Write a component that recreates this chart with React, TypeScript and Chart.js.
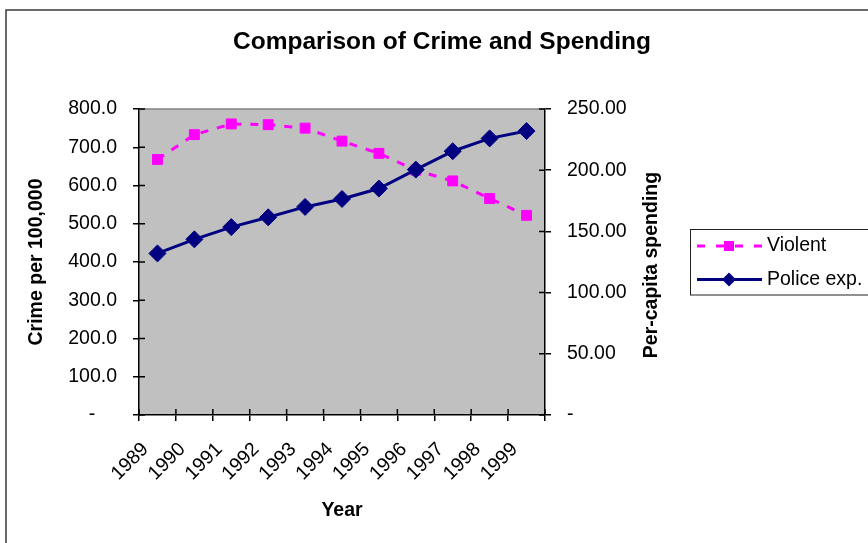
import React, { useEffect, useRef } from "react";
import { Chart, registerables } from "chart.js";

Chart.register(...registerables);

// ---- data ----
const years = ["1989", "1990", "1991", "1992", "1993", "1994", "1995", "1996", "1997", "1998", "1999"];
const violent = [668, 733, 761, 759, 750, 716, 684, 640, 612, 566, 522];
const policeExp = [132, 143.5, 153.5, 161.5, 170, 176.5, 185, 200.5, 215.5, 226, 232];
const seriesNames = ["Violent", "Police exp."];
const titleText = "Comparison of Crime and Spending";
const leftAxisTitle = "Crime per 100,000";
const rightAxisTitle = "Per-capita spending";
const xAxisTitle = "Year";

const FONT = "'Liberation Sans', Arial, Helvetica, sans-serif";
const PINK = "#FF00FF";
const NAVY = "#000080";
const PLOT_BG = "#C0C0C0";

const W = 868;
const H = 543;
const PLOT_LEFT = 139;
const PLOT_RIGHT = 545;
const PLOT_BOTTOM = 415;
const PAD_LEFT = 16;

const excelPlugin = {
  id: "excelLook",
  beforeDraw(chart: any) {
    const { ctx, chartArea: a } = chart;
    ctx.save();
    ctx.fillStyle = "#ffffff";
    ctx.fillRect(0, 0, chart.width, chart.height);
    ctx.strokeStyle = "#3a3a3a";
    ctx.lineWidth = 1.5;
    ctx.strokeRect(6, 10, chart.width + 40, chart.height + 40);
    ctx.fillStyle = PLOT_BG;
    ctx.fillRect(a.left, a.top, a.right - a.left, a.bottom - a.top);
    ctx.restore();
  },
  beforeDatasetsDraw(chart: any) {
    const { ctx, chartArea: a, scales } = chart;
    ctx.save();
    // top border of plot area
    ctx.strokeStyle = "#808080";
    ctx.lineWidth = 1.5;
    ctx.beginPath();
    ctx.moveTo(a.left, a.top);
    ctx.lineTo(a.right, a.top);
    ctx.stroke();
    // inner halves of cross tick marks
    ctx.strokeStyle = "#000000";
    ctx.lineWidth = 1.5;
    ctx.beginPath();
    scales.y.ticks.forEach((t: any) => {
      const py = scales.y.getPixelForValue(t.value);
      ctx.moveTo(a.left, py);
      ctx.lineTo(a.left + 6, py);
    });
    scales.y2.ticks.forEach((t: any) => {
      const py = scales.y2.getPixelForValue(t.value);
      ctx.moveTo(a.right, py);
      ctx.lineTo(a.right - 6, py);
    });
    for (let i = 0; i <= years.length; i++) {
      const px = scales.x.getPixelForValue(i - 0.5);
      ctx.moveTo(px, a.bottom);
      ctx.lineTo(px, a.bottom - 6);
    }
    ctx.stroke();
    ctx.restore();
  },
  afterDraw(chart: any) {
    const { ctx } = chart;
    ctx.save();
    // right axis title (reads bottom to top)
    ctx.fillStyle = "#000";
    ctx.font = `bold 19.5px ${FONT}`;
    ctx.textAlign = "center";
    ctx.textBaseline = "middle";
    ctx.translate(652, 265);
    ctx.rotate(-Math.PI / 2);
    ctx.fillText(rightAxisTitle, 0, 0);
    ctx.restore();

    // legend
    ctx.save();
    ctx.strokeStyle = "#222";
    ctx.lineWidth = 1;
    ctx.strokeRect(690.5, 229.5, 200, 65.5);
    // Violent
    const y1 = 246;
    ctx.strokeStyle = PINK;
    ctx.lineWidth = 3;
    ctx.setLineDash([8, 11]);
    ctx.beginPath();
    ctx.moveTo(697, y1);
    ctx.lineTo(762, y1);
    ctx.stroke();
    ctx.setLineDash([]);
    ctx.fillStyle = PINK;
    ctx.fillRect(724, y1 - 5, 10, 10);
    // Police
    const y2 = 279.5;
    ctx.strokeStyle = NAVY;
    ctx.lineWidth = 3;
    ctx.beginPath();
    ctx.moveTo(697, y2);
    ctx.lineTo(762, y2);
    ctx.stroke();
    ctx.fillStyle = NAVY;
    ctx.beginPath();
    ctx.moveTo(729 - 7, y2);
    ctx.lineTo(729, y2 - 7);
    ctx.lineTo(729 + 7, y2);
    ctx.lineTo(729, y2 + 7);
    ctx.closePath();
    ctx.fill();
    ctx.fillStyle = "#000";
    ctx.font = `19.5px ${FONT}`;
    ctx.textAlign = "left";
    ctx.textBaseline = "middle";
    ctx.fillText(seriesNames[0], 767, 246);
    ctx.fillText(seriesNames[1], 767, 279.5);
    ctx.restore();
  },
};

export default function App() {
  const canvasRef = useRef<HTMLCanvasElement | null>(null);

  useEffect(() => {
    const canvas = canvasRef.current;
    if (!canvas) return;
    const tickFont = { family: FONT, size: 19.5 };
    const titleFont = { family: FONT, size: 19.5, weight: "bold" as const };

    const chart = new Chart(canvas, {
      type: "line",
      data: {
        labels: years,
        datasets: [
          {
            label: seriesNames[0],
            data: violent,
            yAxisID: "y",
            borderColor: PINK,
            backgroundColor: PINK,
            borderWidth: 3,
            borderDash: [8, 9],
            pointStyle: "rect",
            pointRadius: 7,
            pointBorderWidth: 1,
            pointBackgroundColor: PINK,
            pointBorderColor: PINK,
            tension: 0,
            fill: false,
            order: 1,
          },
          {
            label: seriesNames[1],
            data: policeExp,
            yAxisID: "y2",
            borderColor: NAVY,
            backgroundColor: NAVY,
            borderWidth: 3,
            pointStyle: "rectRot",
            pointRadius: 8.5,
            pointBorderWidth: 1,
            pointBackgroundColor: NAVY,
            pointBorderColor: NAVY,
            tension: 0,
            fill: false,
            order: 0,
          },
        ],
      },
      options: {
        responsive: false,
        animation: false,
        devicePixelRatio: 1,
        layout: { padding: { left: PAD_LEFT, right: 0, top: 0, bottom: 0 } },
        plugins: {
          legend: { display: false },
          tooltip: { enabled: false },
          title: {
            display: true,
            text: titleText,
            color: "#000",
            font: { family: FONT, size: 24.5, weight: "bold" },
            padding: { top: 27.3, bottom: 52.3 },
          },
        },
        scales: {
          x: {
            type: "category",
            offset: true,
            grid: {
              offset: true,
              drawOnChartArea: false,
              drawTicks: true,
              tickLength: 6,
              color: "#000",
              lineWidth: 1.5,
            },
            border: { display: true, color: "#000", width: 1.5 },
            ticks: {
              autoSkip: false,
              minRotation: 45,
              maxRotation: 45,
              padding: 17,
              labelOffset: -12,
              color: "#000",
              font: tickFont,
            },
            title: {
              display: true,
              text: xAxisTitle,
              color: "#000",
              font: titleFont,
              padding: { top: 0, bottom: 20.6 },
            },
            afterFit: (scale: any) => {
              scale.height = H - PLOT_BOTTOM;
            },
          },
          y: {
            type: "linear",
            position: "left",
            min: 0,
            max: 800,
            grid: {
              drawOnChartArea: false,
              drawTicks: true,
              tickLength: 6,
              color: "#000",
              lineWidth: 1.5,
            },
            border: { display: true, color: "#000", width: 1.5 },
            ticks: {
              stepSize: 100,
              padding: 16,
              color: "#000",
              font: tickFont,
              callback: (v: any) => (Number(v) === 0 ? "-    " : Number(v).toFixed(1)),
            },
            title: {
              display: true,
              text: leftAxisTitle,
              color: "#000",
              font: titleFont,
              padding: { top: 9, bottom: 0 },
            },
            afterFit: (scale: any) => {
              scale.width = PLOT_LEFT - PAD_LEFT;
            },
          },
          y2: {
            type: "linear",
            position: "right",
            min: 0,
            max: 250,
            grid: {
              drawOnChartArea: false,
              drawTicks: true,
              tickLength: 6,
              color: "#000",
              lineWidth: 1.5,
            },
            border: { display: true, color: "#000", width: 1.5 },
            ticks: {
              stepSize: 50,
              padding: 16,
              color: "#000",
              font: tickFont,
              callback: (v: any) => (Number(v) === 0 ? "-" : Number(v).toFixed(2)),
            },
            afterFit: (scale: any) => {
              scale.width = W - PLOT_RIGHT;
            },
          },
        },
      },
      plugins: [excelPlugin],
    });

    return () => {
      chart.destroy();
    };
  }, []);

  return (
    <div style={{ position: "absolute", left: 0, top: 0, width: W, height: H, background: "#fff" }}>
      <canvas ref={canvasRef} width={W} height={H} style={{ display: "block", width: W, height: H }} />
    </div>
  );
}
